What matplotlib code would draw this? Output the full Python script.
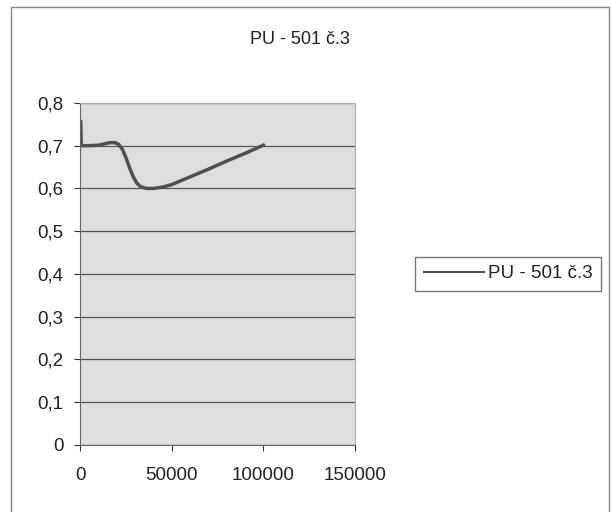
import matplotlib
matplotlib.use('Agg')
import matplotlib.pyplot as plt
from matplotlib.patches import Rectangle

plt.rcParams['font.family'] = ['Liberation Sans', 'DejaVu Sans']

# data
x = [0, 300, 600, 1000, 2000, 5000, 10000, 13000, 16000, 19000, 21000, 23000,
     25000, 27000, 29000, 31000, 33000, 36000, 40000, 45000, 50000, 60000,
     70000, 80000, 90000, 100000]
y = [0.757, 0.757, 0.700, 0.700, 0.700, 0.700, 0.701, 0.704, 0.707, 0.707, 0.703,
     0.692, 0.672, 0.648, 0.627, 0.612, 0.604, 0.600, 0.600, 0.603, 0.609, 0.627,
     0.645, 0.664, 0.682, 0.701]
series_name = 'PU - 501 č.3'
yticks = [0, 0.1, 0.2, 0.3, 0.4, 0.5, 0.6, 0.7, 0.8]
ytick_labels = ['0', '0,1', '0,2', '0,3', '0,4', '0,5', '0,6', '0,7', '0,8']
xticks = [0, 50000, 100000, 150000]

fig = plt.figure(figsize=(6.12, 5.12), dpi=100)
fig.patches.append(Rectangle((11 / 612, -0.01), 0.995 - 11 / 612, 1 - 7 / 512 + 0.01,
                             transform=fig.transFigure, fill=False,
                             edgecolor='#888888', linewidth=1))

ax = fig.add_axes([0.131, 0.131, 0.449, 0.668])
ax.set_facecolor('#dedede')
ax.plot(x, y, color='#505050', linewidth=2.5, label=series_name)
ax.set_xlim(0, 150000)
ax.set_ylim(0, 0.8)
ax.set_yticks(yticks)
ax.set_yticklabels(ytick_labels)
ax.set_xticks(xticks)
ax.set_xticklabels([str(v) for v in xticks])
ax.grid(axis='y', color='#555555', linewidth=0.9)
ax.set_axisbelow(True)
for s in ['left', 'bottom']:
    ax.spines[s].set_color('#666666')
for s in ['right', 'top']:
    ax.spines[s].set_color('#aaaaaa')
ax.tick_params(labelsize=13.5, colors='#333333', length=4, direction='out', pad=8)
ax.tick_params(axis='x', pad=12)
for lab in ax.get_xticklabels() + ax.get_yticklabels():
    lab.set_color('#222222')

fig.text(0.49, 0.922, series_name, ha='center', va='center', fontsize=13, color='#222222')

leg = ax.legend(loc='center left', bbox_to_anchor=(1.186, 0.5), fontsize=13.5,
                frameon=True, fancybox=False, handlelength=3.2, borderpad=0.45,
                handletextpad=0.2, labelcolor='#222222')
leg.get_frame().set_edgecolor('#555555')
leg.get_frame().set_linewidth(1)
leg.get_lines()[0].set_linewidth(1.5)

fig.savefig('out.png', dpi=100)
